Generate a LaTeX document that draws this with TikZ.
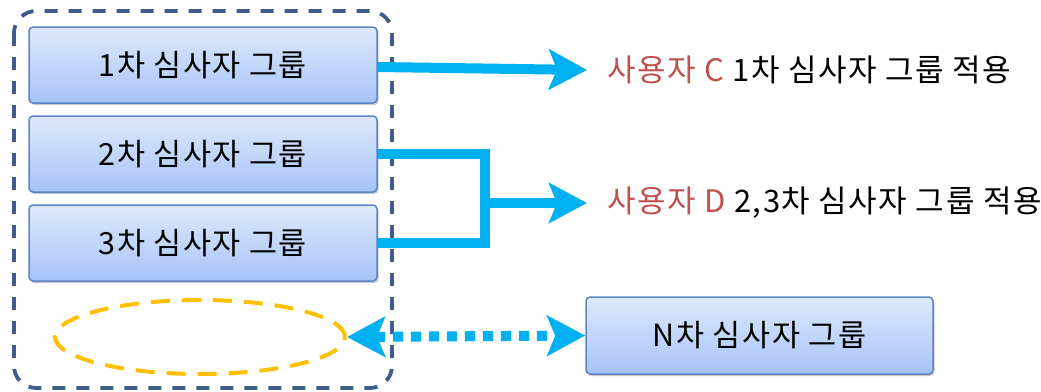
\documentclass[tikz,border=0pt]{standalone}
\usepackage{fontspec}
\setmainfont{Noto Sans CJK KR}[LetterSpace=5]
\usetikzlibrary{arrows.meta,shadows,shapes.geometric}
\definecolor{frameblue}{HTML}{3E5D8A}
\definecolor{boxborder}{HTML}{5B84C4}
\definecolor{boxtop}{HTML}{DEE9FC}
\definecolor{boxbot}{HTML}{A6C3F7}
\definecolor{arrowblue}{HTML}{00B0F0}
\definecolor{redtext}{HTML}{C0504D}
\definecolor{ellyellow}{HTML}{FFC000}
\tikzset{
  grpbox/.style={draw=boxborder, line width=1.5pt, rounded corners=4pt,
    top color=boxtop, bottom color=boxbot, minimum width=348pt, minimum height=76pt,
    inner sep=0pt, font=\fontsize{30.5}{36}\selectfont,
    drop shadow={shadow xshift=1.5pt, shadow yshift=-2pt, opacity=0.35, fill=black!60}},
  bigarrow/.style={draw=arrowblue, line width=10pt,
    -{Stealth[length=38pt,width=40pt,inset=8pt]}},
  lbl/.style={anchor=west, inner sep=0pt, font=\fontsize{31}{36}\selectfont},
}
\begin{document}
\begin{tikzpicture}[x=1pt,y=-1pt]
\useasboundingbox (0,0) rectangle (1041,391);
% frame
\draw[frameblue, line width=3.8pt, dash pattern=on 13pt off 11pt, rounded corners=22pt]
  (14,11) rectangle (392,388);
% boxes
\node[grpbox] (g1) at (203,65) {1차 심사자 그룹};
\node[grpbox] (g2) at (203,154) {2차 심사자 그룹};
\node[grpbox] (g3) at (203,243) {3차 심사자 그룹};
\node[grpbox, minimum width=347pt, minimum height=77pt] (gn) at (759.5,335.5) {N차 심사자 그룹};
% ellipse
\node[ellipse, draw=ellyellow, line width=4pt, dash pattern=on 19pt off 12pt,
  minimum width=290pt, minimum height=74pt, inner sep=0pt] (el) at (200,337) {};
% labels
\node[lbl] (t1) at (607,70) {\textcolor{redtext}{사용자 C} 1차 심사자 그룹 적용};
\node[lbl] (t2) at (607,203) {\textcolor{redtext}{사용자 D} 2,3차 심사자 그룹 적용};
% arrows
\coordinate (a1s) at (g1.east);
\coordinate (a1e) at (587,70);
\draw[bigarrow] ([yshift=-2pt]a1s) -- (a1e);
\coordinate (j2) at (480,154);
\coordinate (j3) at (480,243);
\coordinate (jm) at (480,203);
\coordinate (a2e) at (587,203);
\draw[arrowblue, line width=10pt] (g2.east) -- ([xshift=5pt]j2) -- ([xshift=5pt]j3) -- (g3.east);
\draw[bigarrow] (jm) -- (a2e);
% dotted double arrow
\draw[arrowblue, line width=10pt, dash pattern=on 10pt off 8pt,
  {Stealth[length=38pt,width=40pt,inset=8pt]}-{Stealth[length=38pt,width=40pt,inset=8pt]}]
  (el.east) -- (gn.west);
\end{tikzpicture}
\end{document}
